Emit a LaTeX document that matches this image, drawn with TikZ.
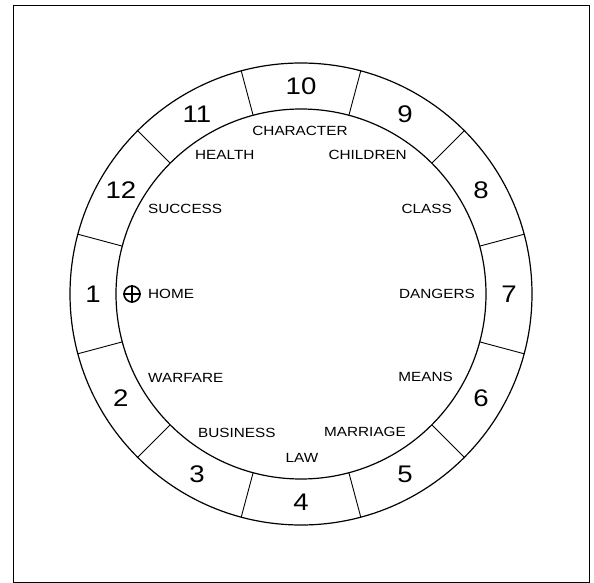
\documentclass[tikz,border=0pt]{standalone}
\usepackage{fontspec}
\newfontfamily\wheelfont[FakeStretch=1.15]{Liberation Sans}
\usetikzlibrary{calc}

\begin{document}
\begin{tikzpicture}[x=1pt,y=-1pt,
      ring/.style={circle,draw,line width=1.2pt,outer sep=0pt,inner sep=0pt},
      spoke/.style={line width=0.9pt},
      house/.style={font=\wheelfont\fontsize{24}{24}\selectfont,inner sep=0pt},
      topic/.style={font=\wheelfont\fontsize{13.3}{13.3}\selectfont,inner sep=0pt}]
    \useasboundingbox (0,0) rectangle (594,583);
    \draw[line width=0.8pt] (13,5) rectangle (589,582);
    % the wheel
    \coordinate (centre) at (301,294);
    \node[ring,minimum size=462pt] (rim) at (centre) {};
    \node[ring,minimum size=370pt] (hub) at (centre) {};
    \foreach \a in {15,45,...,345}
      \draw[spoke] (hub.\a) -- (rim.\a);
    \foreach \n [count=\i from 0] in {1,...,12}
      \node[house] (h\n) at ($(centre)+(180+30*\i:208pt)$) {\n};
    % the topics inside
    \node[topic]             (character) at (300,131) {CHARACTER};
    \node[topic,anchor=west] (health)    at (195,155) {HEALTH};
    \node[topic,anchor=east] (children)  at (407,155) {CHILDREN};
    \node[topic,anchor=west] (success)   at (148,209) {SUCCESS};
    \node[topic,anchor=east] (class)     at (452,209) {CLASS};
    \node[circle,draw,line width=1.6pt,minimum size=16pt,inner sep=0pt] (homesign) at (132,294) {};
    \draw[line width=1.6pt] (homesign.north) -- (homesign.south) (homesign.west) -- (homesign.east);
    \node[topic,anchor=west] (home)      at (148,294) {HOME};
    \node[topic,anchor=east] (dangers)   at (475,294) {DANGERS};
    \node[topic,anchor=west] (warfare)   at (148,378) {WARFARE};
    \node[topic,anchor=east] (means)     at (453,377) {MEANS};
    \node[topic,anchor=west] (business)  at (198,433) {BUSINESS};
    \node[topic,anchor=east] (marriage)  at (406,432) {MARRIAGE};
    \node[topic]             (law)       at (302,458) {LAW};
  \end{tikzpicture}
\end{document}
